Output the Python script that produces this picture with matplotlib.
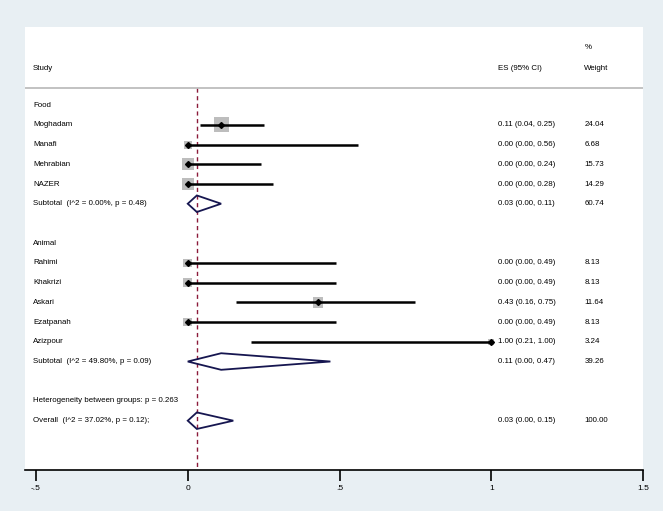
import numpy as np
import matplotlib
matplotlib.use("Agg")
import matplotlib.pyplot as plt
from matplotlib.patches import Polygon, Rectangle

plt.rcParams["font.family"] = ["Liberation Sans", "DejaVu Sans"]

# study data
food_names = ["Moghadam", "Manafi", "Mehrabian", "NAZER"]
food_es = [0.11, 0.00, 0.00, 0.00]
food_lo = [0.04, 0.00, 0.00, 0.00]
food_hi = [0.25, 0.56, 0.24, 0.28]
food_w = [24.04, 6.68, 15.73, 14.29]

animal_names = ["Rahimi", "Khakrizi", "Askari", "Ezatpanah", "Azizpour"]
animal_es = [0.00, 0.00, 0.43, 0.00, 1.00]
animal_lo = [0.00, 0.00, 0.16, 0.00, 0.21]
animal_hi = [0.49, 0.49, 0.75, 0.49, 1.00]
animal_w = [8.13, 8.13, 11.64, 8.13, 3.24]

# pooled estimates
sub_labels = ["Subtotal  (I^2 = 0.00%, p = 0.48)", "Subtotal  (I^2 = 49.80%, p = 0.09)"]
sub_es = [0.03, 0.11]
sub_lo = [0.00, 0.00]
sub_hi = [0.11, 0.47]
sub_w = [60.74, 39.26]

overall_label = "Overall  (I^2 = 37.02%, p = 0.12);"
overall_es, overall_lo, overall_hi, overall_w = 0.03, 0.00, 0.15, 100.00
het_label = "Heterogeneity between groups: p = 0.263"

xticks = [-0.5, 0, 0.5, 1, 1.5]
xticklabels = ["-.5", "0", ".5", "1", "1.5"]

W, H = 663, 511
fig = plt.figure(figsize=(W / 100, H / 100), dpi=100)
fig.patch.set_facecolor("#e8eff3")

left_px, right_px, top_px, bot_px = 25, 643, 27, 470
ax = fig.add_axes([left_px / W, 1 - bot_px / H, (right_px - left_px) / W, (bot_px - top_px) / H])
ax.set_facecolor("white")
ax.set_xlim(-0.5 - 11 / 303.5, 1.5)
ax.set_ylim(18.5, -3.96)

for s in ["top", "right", "left"]:
    ax.spines[s].set_visible(False)
ax.spines["bottom"].set_linewidth(1.2)
ax.set_yticks([])
ax.set_xticks(xticks)
ax.set_xticklabels(xticklabels, fontsize=6)
ax.tick_params(axis="x", direction="out", length=8, width=1.2, pad=3)

fs = 5.7
tx = ax.get_yaxis_transform()
x_name, x_es, x_w = 0.013, 0.765, 0.905

# header
ax.text(x_name, -1.88, "Study", transform=tx, fontsize=fs, va="center")
ax.text(x_es, -1.88, "ES (95% CI)", transform=tx, fontsize=fs, va="center")
ax.text(x_w, -2.9, "%", transform=tx, fontsize=fs, va="center")
ax.text(x_w, -1.88, "Weight", transform=tx, fontsize=fs, va="center")
ax.axhline(-0.86, color="#b8b8b8", lw=1.2)

# reference line at overall estimate
ax.plot([overall_es, overall_es], [-0.86, 18.5], color="#8b1a3a", lw=1.0,
        ls=(0, (3, 2.5)), zorder=1)

def study_row(y, name, es, lo, hi, w):
    ax.text(x_name, y, name, transform=tx, fontsize=fs, va="center")
    ax.text(x_es, y, "%.2f (%.2f, %.2f)" % (es, lo, hi), transform=tx, fontsize=fs, va="center")
    ax.text(x_w, y, "%.2f" % w, transform=tx, fontsize=fs, va="center")
    side = 3.06 * np.sqrt(w)  # pixels
    dx = side / 303.5
    dy = side / 19.7
    ax.add_patch(Rectangle((es - dx / 2, y - dy / 2), dx, dy, facecolor="#bdbdbd",
                           edgecolor="none", zorder=2))
    ax.plot([lo, hi], [y, y], color="black", lw=1.8, zorder=3, solid_capstyle="butt")
    ax.plot(es, y, "D", color="black", ms=3, zorder=4)

def diamond_row(y, name, es, lo, hi, w):
    ax.text(x_name, y, name, transform=tx, fontsize=fs, va="center")
    ax.text(x_es, y, "%.2f (%.2f, %.2f)" % (es, lo, hi), transform=tx, fontsize=fs, va="center")
    ax.text(x_w, y, "%.2f" % w, transform=tx, fontsize=fs, va="center")
    hh = 0.42
    ax.add_patch(Polygon([(lo, y), (es, y - hh), (hi, y), (es, y + hh)], closed=True,
                         fill=False, edgecolor="#161650", lw=1.3, zorder=3))

y = 0
ax.text(x_name, y, "Food", transform=tx, fontsize=fs, va="center")
for i in range(len(food_names)):
    y += 1
    study_row(y, food_names[i], food_es[i], food_lo[i], food_hi[i], food_w[i])
y += 1
diamond_row(y, sub_labels[0], sub_es[0], sub_lo[0], sub_hi[0], sub_w[0])

y += 2
ax.text(x_name, y, "Animal", transform=tx, fontsize=fs, va="center")
for i in range(len(animal_names)):
    y += 1
    study_row(y, animal_names[i], animal_es[i], animal_lo[i], animal_hi[i], animal_w[i])
y += 1
diamond_row(y, sub_labels[1], sub_es[1], sub_lo[1], sub_hi[1], sub_w[1])

y += 2
ax.text(x_name, y, het_label, transform=tx, fontsize=fs, va="center")
y += 1
diamond_row(y, overall_label, overall_es, overall_lo, overall_hi, overall_w)

fig.savefig("out.png", dpi=100, facecolor=fig.get_facecolor())
